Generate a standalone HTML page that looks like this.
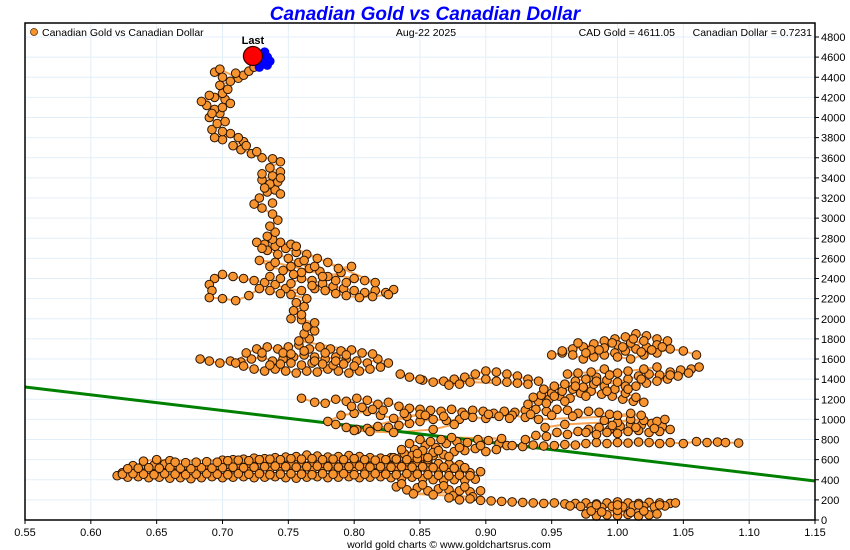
<!DOCTYPE html>
<html><head><meta charset="utf-8"><style>
html,body{margin:0;padding:0;background:#fff;}
svg{display:block;font-family:"Liberation Sans",sans-serif;}
</style></head><body>
<svg id="chart" width="850" height="550" viewBox="0 0 850 550" xmlns="http://www.w3.org/2000/svg">
<text x="425" y="20" text-anchor="middle" font-size="19" font-weight="bold" font-style="italic" fill="#0000ff">Canadian Gold vs Canadian Dollar</text>
<g id="grid"></g>
<g id="marks"></g>
<rect x="25" y="23" width="790" height="497" fill="none" stroke="#000" stroke-width="1.5"/>
<g id="axes"></g>
<g>
<circle cx="34" cy="32" r="3.5" fill="#f7942f" stroke="#5a2d00" stroke-width="0.8"/>
<text x="42" y="36" font-size="10.5">Canadian Gold vs Canadian Dollar</text>
</g>
<text x="426" y="36" text-anchor="middle" font-size="10.5">Aug-22  2025</text>
<text x="675" y="36" text-anchor="end" font-size="10.5">CAD Gold = 4611.05</text>
<text x="812" y="36" text-anchor="end" font-size="10.5">Canadian Dollar = 0.7231</text>
<text x="449" y="548" text-anchor="middle" font-size="10.5">world gold charts © www.goldchartsrus.com</text>
</svg>
<script>
const xTicks=[0.55,0.60,0.65,0.70,0.75,0.80,0.85,0.90,0.95,1.00,1.05,1.10,1.15];
const yTicks=[0,200,400,600,800,1000,1200,1400,1600,1800,2000,2200,2400,2600,2800,3000,3200,3400,3600,3800,4000,4200,4400,4600,4800];
const trendLine=[[0.55,1322],[1.15,388]];
const lastPoint=[0.7231,4611.05];
const recentPoints=[[0.728,4620],[0.732,4650],[0.734,4600],[0.730,4560],[0.734,4520],[0.728,4500],[0.736,4560],[0.731,4590]];
const seg1=[[0.620,440],[0.628,425],[0.636,430],[0.644,420],[0.652,425],[0.660,415],[0.668,420],[0.676,410],[0.684,420],[0.692,430],[0.700,420],[0.708,425],[0.716,430],[0.724,420],[0.732,425],[0.740,430],[0.748,420],[0.756,415],[0.764,425],[0.772,430],[0.780,420],[0.788,425],[0.796,430],[0.804,420],[0.812,425],[0.820,430],[0.828,420],[0.836,415],[0.844,425],[0.852,410],[0.860,400],[0.868,395],[0.876,400],[0.884,395],[0.892,405],
[0.896,480],[0.888,470],[0.880,480],[0.872,490],[0.864,485],[0.856,495],[0.848,490],[0.840,500],[0.832,495],[0.824,490],[0.816,500],[0.808,495],[0.800,505],[0.792,500],[0.784,490],[0.776,495],[0.768,500],[0.760,495],[0.752,490],[0.744,500],[0.736,505],[0.728,495],[0.720,490],[0.712,485],[0.704,490],[0.696,480],[0.688,485],[0.680,475],[0.672,480],[0.664,490],[0.656,485],[0.648,480],[0.640,490],[0.632,480],[0.624,470],
[0.632,540],[0.640,550],[0.648,545],[0.656,555],[0.664,550],[0.672,545],[0.680,540],[0.688,550],[0.696,545],[0.704,555],[0.712,560],[0.720,565],[0.728,560],[0.736,570],[0.744,565],[0.752,560],[0.760,570],[0.768,575],[0.776,565],[0.784,560],[0.792,570],[0.800,565],[0.808,560],[0.816,555],[0.824,560],[0.832,570],[0.840,580],[0.848,575],[0.856,570],[0.864,560],[0.872,555],[0.880,550],
[0.860,640],[0.852,630],[0.844,625],[0.836,630],[0.828,620],[0.820,615],[0.812,620],[0.804,630],[0.796,640],[0.788,630],[0.780,625],[0.772,635],[0.764,645],[0.756,630],[0.748,625],[0.740,620],[0.732,610],[0.724,615],[0.716,605],[0.708,600],[0.700,595],[0.660,590],[0.650,600],[0.640,585]];
const seg2=[[0.832,330],[0.840,300],[0.848,320],[0.856,290],[0.864,310],[0.872,300],[0.880,290],[0.888,280],[0.896,290],[0.845,260],[0.860,250],[0.875,240],[0.890,230]];
const seg3=[[0.872,220],[0.880,200],[0.888,210],[0.896,195],[0.904,190],[0.912,185],[0.920,180],[0.928,175],[0.936,170],[0.944,165],[0.952,170],[0.960,160],[0.968,165],[0.976,170],[0.984,160],[0.992,170],[1.000,180],[1.008,170],[1.016,165],[1.024,175],[1.032,170],[1.040,165],[1.044,170],[1.036,140],[1.028,130],[1.020,135],[1.012,140],[1.004,130],[0.996,135],[0.988,125],[0.980,130],[0.972,135],[0.964,140]];
const seg4=[[0.976,60],[0.984,40],[0.992,50],[1.000,45],[1.008,55],[1.016,40],[1.024,50],[1.030,60],[0.980,90],[1.000,95],[1.020,90]];
const seg5=[[0.830,620],[0.838,660],[0.846,700],[0.854,740],[0.862,720],[0.870,760],[0.878,780],[0.886,770],[0.894,800],[0.902,790],[0.910,760],[0.916,740],[0.908,700],[0.900,680],[0.892,710],[0.884,690],[0.876,680],[0.868,650],[0.860,670],[0.852,690],[0.844,640],[0.836,700],[0.842,760],[0.850,800],[0.858,780],[0.866,800],[0.874,820],[0.912,810]];
const seg6=[[0.920,740],[0.928,730],[0.936,745],[0.944,735],[0.952,740],[0.960,750],[0.968,745],[0.976,760],[0.984,770],[0.992,760],[1.000,770],[1.008,765],[1.016,775],[1.024,770],[1.032,760],[1.040,770],[1.050,760],[1.060,780],[1.068,770],[1.076,775],[1.082,770],[1.092,765]];
const seg7=[[0.930,800],[0.938,840],[0.946,830],[0.954,870],[0.962,850],[0.970,880],[0.978,900],[0.986,920],[0.994,900],[1.002,930],[1.010,950],[1.018,940],[1.026,960],[1.034,930],[1.040,900],[1.032,880],[1.024,870],[1.016,890],[1.008,880],[1.000,860],[0.992,870],[0.984,850],[0.976,870],[0.990,990],[1.000,970],[1.010,1000],[1.020,990],[1.030,980],[1.036,1000],[0.960,950],[0.945,920]];
const seg8=[[0.760,1210],[0.770,1170],[0.778,1160],[0.786,1200],[0.794,1180],[0.802,1210],[0.810,1190],[0.818,1150],[0.826,1170],[0.834,1130],[0.842,1110],[0.850,1100],[0.858,1090],[0.866,1080],[0.874,1100],[0.882,1070],[0.890,1090],[0.898,1080],[0.906,1060],[0.914,1080],[0.922,1070],[0.930,1090],[0.938,1100],[0.946,1080],[0.954,1100],[0.962,1090],[0.970,1060],[0.978,1080],[0.986,1070],[0.994,1050],[1.000,1040],[1.010,1060],[1.018,1040],
[0.940,1000],[0.930,1020],[0.920,1040],[0.910,1030],[0.900,1010],[0.890,1020],[0.880,1000],[0.870,990],[0.860,1000],[0.850,980],[0.842,960],[0.834,940],[0.826,920],[0.818,930],[0.810,910],[0.802,900],[0.794,920],[0.786,950],[0.780,980],[0.790,1040],[0.800,1060],[0.810,1080],[0.820,1040],[0.830,1010],[0.840,1030],[0.850,1050],[0.800,890],[0.812,880],[0.830,870],[0.860,900],[0.876,950]];
const seg9=[[0.932,1150],[0.940,1180],[0.948,1200],[0.956,1230],[0.964,1210],[0.972,1260],[0.980,1280],[0.988,1250],[0.996,1230],[1.004,1200],[1.012,1180],[1.020,1170],[1.014,1220],[1.006,1260],[0.998,1300],[0.990,1330],[0.982,1350],[0.974,1320],[0.966,1300],[0.958,1280],[0.950,1260],[0.942,1240],[0.936,1220],[0.944,1300],[0.952,1330],[0.960,1350],[0.968,1380],[0.976,1400],[0.984,1420],[0.992,1390],[1.000,1370],[1.008,1400],[1.016,1430],[1.024,1450],[1.032,1440],[1.040,1470],[1.048,1490],[1.056,1500],[1.062,1520],[1.054,1460],[1.046,1430],[1.038,1400],[1.030,1380],[1.022,1360],[1.014,1330],[1.006,1330],[0.962,1450],[0.970,1460],[0.980,1470],[0.990,1500],[1.000,1460],[1.008,1480],[1.020,1500],[1.030,1520]];
const seg10=[[0.940,1380],[0.932,1400],[0.924,1430],[0.916,1450],[0.908,1470],[0.900,1480],[0.892,1450],[0.884,1420],[0.876,1400],[0.868,1380],[0.860,1370],[0.852,1390],[0.900,1400],[0.908,1380],[0.916,1370],[0.924,1360],[0.932,1350],[0.888,1370],[0.880,1350],[0.872,1340],[0.850,1400],[0.842,1420],[0.835,1450]];
const seg11=[[0.950,1640],[0.958,1660],[0.966,1700],[0.974,1720],[0.982,1750],[0.990,1780],[0.998,1800],[1.006,1820],[1.014,1850],[1.022,1830],[1.030,1800],[1.038,1780],[1.030,1740],[1.022,1720],[1.014,1700],[1.006,1680],[0.998,1660],[0.990,1640],[0.982,1620],[0.974,1600],[0.966,1640],[0.958,1680],[0.970,1760],[0.980,1690],[0.990,1710],[1.000,1740],[1.010,1760],[1.020,1780],[1.000,1620],[1.010,1600],[1.020,1640],[1.030,1660],[1.040,1700],[1.050,1680],[1.060,1640]];
const seg12=[[0.683,1600],[0.690,1580],[0.698,1560],[0.706,1580],[0.714,1570],[0.722,1600],[0.730,1620],[0.738,1580],[0.746,1600],[0.754,1620],[0.762,1640],[0.770,1620],[0.778,1600],[0.786,1620],[0.794,1600],[0.802,1580],[0.810,1560],[0.818,1600],[0.826,1560],[0.820,1520],[0.812,1500],[0.804,1480],[0.796,1460],[0.788,1480],[0.780,1500],[0.772,1470],[0.764,1480],[0.756,1460],[0.748,1480],[0.740,1500],[0.732,1480],[0.724,1500],[0.716,1530],[0.710,1560],[0.718,1660],[0.726,1700],[0.734,1720],[0.742,1700],[0.750,1720],[0.758,1740],[0.766,1700],[0.774,1720],[0.782,1700],[0.790,1680],[0.798,1690],[0.806,1660],[0.814,1650],[0.758,1780],[0.766,1800],[0.762,1850],[0.770,1880],[0.764,1920],[0.770,1960],[0.760,1990]];
const seg13=[[0.752,2000],[0.760,2040],[0.754,2080],[0.762,2120],[0.756,2160],[0.764,2200],[0.752,2240],[0.760,2280],[0.748,2300],[0.740,2340],[0.732,2360],[0.724,2380],[0.716,2400],[0.708,2420],[0.700,2440],[0.694,2400],[0.690,2340],[0.692,2280],[0.690,2210],[0.700,2200],[0.710,2180],[0.720,2230],[0.728,2300],[0.736,2280],[0.744,2250],[0.752,2350],[0.760,2400],[0.768,2380],[0.776,2350],[0.784,2320],[0.792,2300],[0.800,2280],[0.808,2260],[0.816,2280],[0.824,2260],[0.830,2290],[0.826,2240],[0.814,2220],[0.804,2210],[0.794,2230],[0.786,2250],[0.778,2280],[0.770,2300],[0.780,2420],[0.790,2460],[0.798,2520],[0.788,2500],[0.780,2560],[0.772,2600],[0.764,2640],[0.756,2660],[0.748,2700],[0.740,2720],[0.732,2740],[0.726,2760],[0.734,2680],[0.742,2640],[0.750,2600],[0.758,2560],[0.766,2500],[0.774,2470],[0.760,2460],[0.746,2480],[0.736,2520],[0.728,2580],[0.740,2560],[0.752,2520],[0.800,2400],[0.808,2380],[0.816,2360],[0.744,2760],[0.752,2740],[0.738,2790]];
const seg14=[[0.734,2820],[0.740,2860],[0.736,2920],[0.742,2980],[0.738,3040],[0.730,3100],[0.724,3140],[0.728,3200],[0.734,3260],[0.740,3280],[0.736,3340],[0.730,3380],[0.738,3420],[0.744,3460],[0.736,3500],[0.744,3560],[0.738,3590],[0.730,3600],[0.722,3640],[0.714,3680],[0.708,3720],[0.716,3760],[0.712,3800],[0.706,3840],[0.700,3780],[0.694,3800],[0.692,3880],[0.696,3940],[0.690,4000],[0.698,4040],[0.694,4080],[0.688,4120],[0.684,4160],[0.694,4200],[0.702,4180],[0.706,4140],[0.700,4240],[0.704,4280],[0.698,4320],[0.706,4360],[0.700,4400],[0.694,4450],[0.698,4480],[0.712,4390],[0.716,4420],[0.720,4460],[0.724,4500],[0.728,4540],[0.722,4580]];
const fillBottom=[[0.624,455],[0.632,460],[0.640,455],[0.648,450],[0.656,460],[0.664,455],[0.672,450],[0.680,455],[0.688,460],[0.696,455],[0.704,450],[0.712,460],[0.720,455],[0.728,460],[0.736,450],[0.744,455],[0.752,460],[0.760,455],[0.768,450],[0.776,460],[0.784,455],[0.792,460],[0.800,450],[0.808,455],[0.816,460],[0.824,455],[0.832,450],[0.840,460],[0.848,455],[0.856,450],[0.864,445],[0.872,440],[0.880,445],[0.888,440],
[0.884,520],[0.876,515],[0.868,525],[0.860,520],[0.852,530],[0.844,525],[0.836,530],[0.828,525],[0.820,530],[0.812,525],[0.804,535],[0.796,530],[0.788,525],[0.780,530],[0.772,535],[0.764,530],[0.756,525],[0.748,530],[0.740,535],[0.732,530],[0.724,525],[0.716,520],[0.708,525],[0.700,520],[0.692,515],[0.684,520],[0.676,510],[0.668,515],[0.660,520],[0.652,515],[0.644,520],[0.636,515],[0.628,510],
[0.704,590],[0.712,595],[0.720,590],[0.728,600],[0.736,605],[0.744,600],[0.752,610],[0.760,605],[0.768,610],[0.776,600],[0.784,605],[0.792,600],[0.800,610],[0.808,600],[0.816,595],[0.824,600],[0.832,605],[0.840,600],[0.848,610],[0.856,600],[0.664,575],[0.672,570],[0.680,575],[0.688,580],[0.696,575],
[0.836,360],[0.852,350],[0.868,340],[0.884,330],[0.984,150],[1.000,150],[1.016,150],[1.032,150],[0.988,80],[1.010,75]];
const fillMiddle=[[0.848,660],[0.864,690],[0.880,720],[0.896,740],[0.856,620],[0.872,630],[0.996,940],[1.014,920],[1.028,910],
[0.798,1130],[0.806,1120],[0.814,1100],[0.822,1090],[0.838,1060],[0.854,1040],[0.868,1030],[0.884,1040],[0.902,1050],[0.918,1010],[0.934,1050],[0.950,1040],[0.966,1030],
[0.946,1160],[0.960,1180],[0.976,1230],[0.992,1280],[1.008,1300],[0.968,1330],[0.984,1380],[0.952,1230],[0.994,1440],[1.018,1400],[1.040,1440],
[0.986,1690],[0.996,1760],[1.004,1720],[1.012,1800],[1.018,1670],[1.026,1690],[0.976,1660],[1.034,1720]];
const fillUpper=[[0.736,1540],[0.744,1550],[0.752,1560],[0.760,1540],[0.768,1560],[0.776,1550],[0.784,1540],[0.792,1550],[0.800,1530],[0.730,1660],[0.746,1660],[0.762,1680],[0.778,1660],[0.794,1640],[0.752,1650],[0.770,1580],[0.786,1580],
[0.768,2330],[0.776,2420],[0.786,2380],[0.794,2360],[0.770,2520],[0.762,2580],[0.754,2440],[0.744,2400],[0.736,2420],[0.756,2720],[0.730,2700],
[0.738,3150],[0.744,3240],[0.732,3300],[0.742,3360],[0.744,3400],[0.730,3440],[0.726,3660],[0.718,3720],[0.700,3860],[0.702,3960],[0.692,4040],[0.700,4100],[0.690,4220],[0.710,4440]];
const segments=[seg1,seg2,seg3,seg4,seg5,seg6,seg7,seg8,seg9,seg10,seg11,seg12,seg13,seg14];
const fills=[fillBottom,fillMiddle,fillUpper];

const X0=25,X1=815,Y0=520,Y1=37;
function sx(v){return X0+(v-0.55)/(1.15-0.55)*(X1-X0);}
function sy(v){return Y0-v/4800*(Y0-Y1);}
const NS="http://www.w3.org/2000/svg";
function mk(tag,attrs,parent){const e=document.createElementNS(NS,tag);for(const k in attrs)e.setAttribute(k,attrs[k]);parent.appendChild(e);return e;}
const grid=document.getElementById('grid'),marks=document.getElementById('marks'),axes=document.getElementById('axes');
xTicks.forEach(t=>{
  const g=mk('line',{x1:sx(t),x2:sx(t),y1:23,y2:520,stroke:'#e3eff8','stroke-width':1},grid);
  
  
  const tk=mk('line',{x1:sx(t),x2:sx(t),y1:520,y2:524,stroke:'#000'},axes);
  
  
  const lb=mk('text',{x:sx(t),y:536,'text-anchor':'middle','font-size':11},axes);
  lb.textContent=t.toFixed(2);
  
  
});
yTicks.forEach(t=>{
  const g=mk('line',{x1:25,x2:815,y1:sy(t),y2:sy(t),stroke:'#e3eff8','stroke-width':1},grid);
  
  
  const tk=mk('line',{x1:815,x2:819,y1:sy(t),y2:sy(t),stroke:'#000'},axes);
  
  
  const lb=mk('text',{x:821,y:sy(t)+4,'font-size':11},axes);
  lb.textContent=String(t);
  
  
});
segments.forEach(seg=>{
  const pl=mk('polyline',{points:seg.map(p=>sx(p[0])+','+sy(p[1])).join(' '),fill:'none',stroke:'#f8a352','stroke-width':2},marks);
  
  
});
const tl=mk('line',{x1:sx(trendLine[0][0]),y1:sy(trendLine[0][1]),x2:sx(trendLine[1][0]),y2:sy(trendLine[1][1]),stroke:'#008000','stroke-width':3},marks);


segments.concat(fills).forEach(seg=>{seg.forEach(p=>{
  const c=mk('circle',{cx:sx(p[0]),cy:sy(p[1]),r:4.3,fill:'#f7942f',stroke:'#2a1400','stroke-width':1},marks);
  
  
});});
recentPoints.forEach(p=>{
  const c=mk('circle',{cx:sx(p[0]),cy:sy(p[1]),r:4.3,fill:'#0000ff',stroke:'#0000ff','stroke-width':0.8},marks);
  
  
});
const lp=mk('circle',{cx:sx(lastPoint[0]),cy:sy(lastPoint[1]),r:9.5,fill:'#ff0000',stroke:'#300','stroke-width':1.2},marks);


const ll=mk('text',{x:sx(lastPoint[0]),y:sy(lastPoint[1])-12,'text-anchor':'middle','font-size':11,'font-weight':'bold'},marks);
ll.textContent='Last';


</script>
</body></html>
